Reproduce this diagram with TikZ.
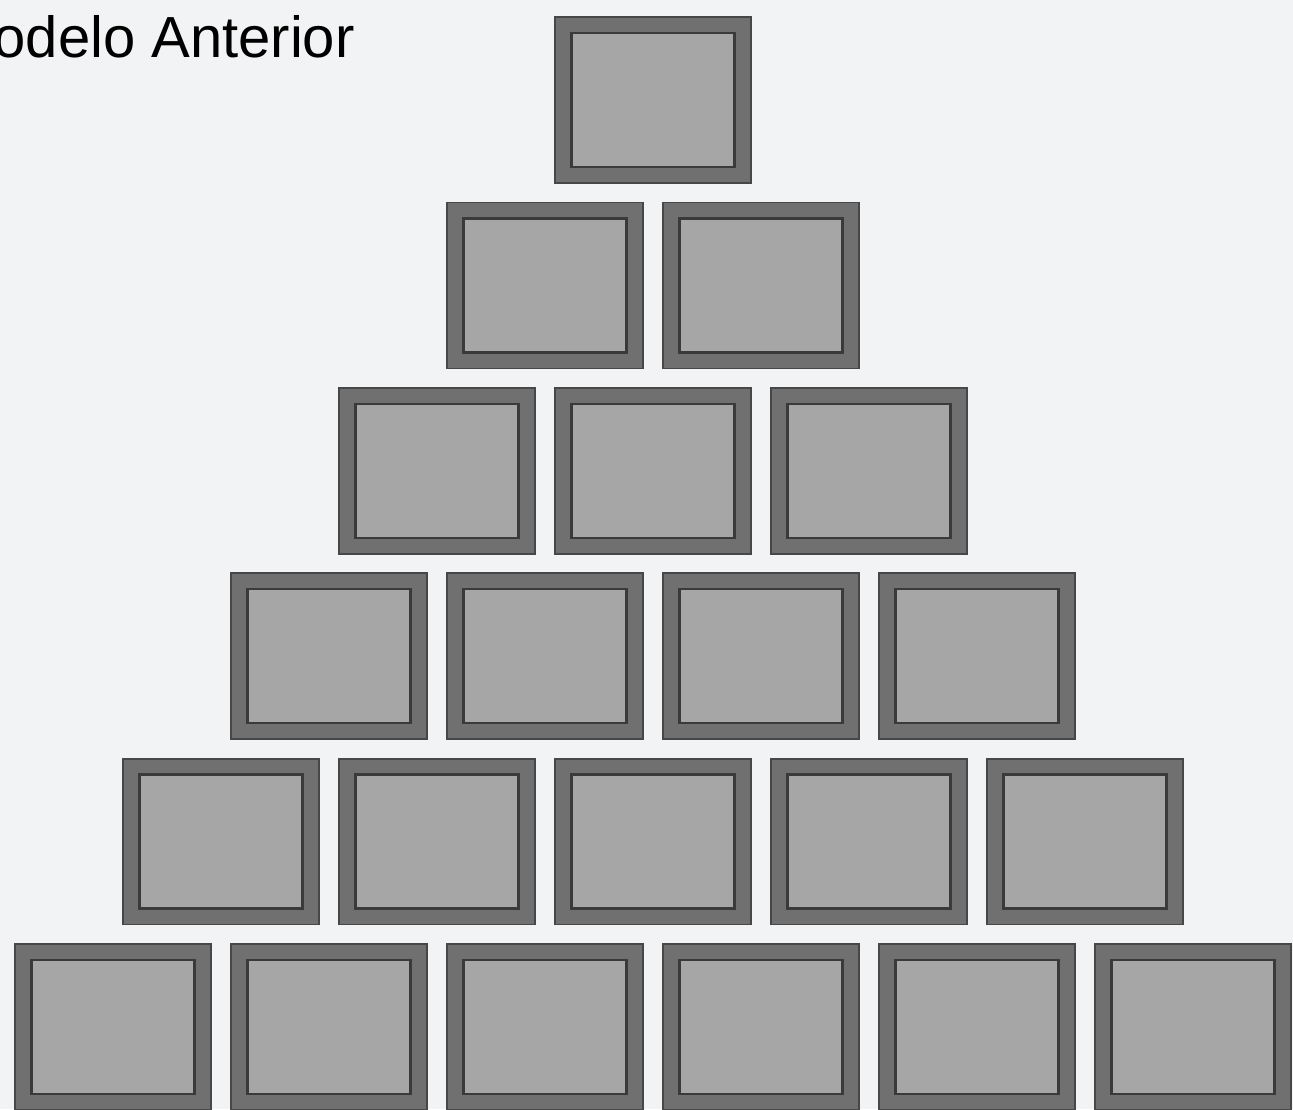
\documentclass[tikz,border=0pt]{standalone}
\usepackage{fontspec}
\setmainfont{Liberation Sans}
\definecolor{pybg}{HTML}{F2F3F4}
\definecolor{pyframe}{HTML}{707070}
\definecolor{pyedge}{HTML}{474747}
\definecolor{pyline}{HTML}{3A3A3A}
\definecolor{pyface}{HTML}{A6A6A6}
\tikzset{
  frame/.style={draw=pyedge, line width=1pt, fill=pyframe,
    minimum width=3.92cm, minimum height=3.32cm, inner sep=0pt},
  face/.style={draw=pyline, line width=1.4pt, fill=pyface,
    minimum width=3.26cm, minimum height=2.68cm, inner sep=0pt},
}
\begin{document}
\begin{tikzpicture}[x=0.02cm,y=-0.02cm]
\fill[pybg] (0,0) rectangle (1293,1109);
\useasboundingbox (0,0) rectangle (1293,1109);
\begin{scope}
\clip (0,0) rectangle (1293,1109);
% Title
\node[anchor=base east, inner sep=0pt, font=\fontsize{33}{40}\selectfont] (title) at (355,57) {Modelo Anterior};
% Pyramid of boxes
\foreach \r in {0,...,5}{
  \foreach \c in {0,...,\r}{
    \node[frame] (box-\r-\c) at ({653-108*\r+216*\c},{100+185.4*\r}) {};
    \node[face] (face-\r-\c) at (box-\r-\c.center) {};
  }
}
\end{scope}
\end{tikzpicture}
\end{document}
